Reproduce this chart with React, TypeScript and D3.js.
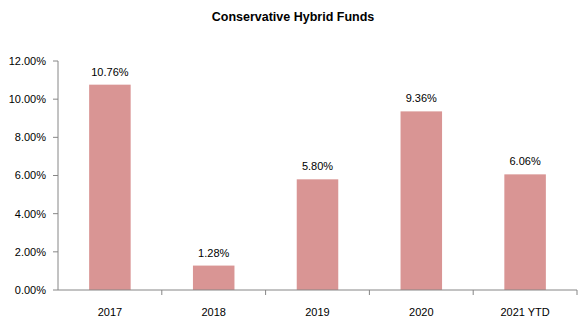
import React from "react";
import * as d3 from "d3";

const categories = ["2017", "2018", "2019", "2020", "2021 YTD"];
const values = [10.76, 1.28, 5.8, 9.36, 6.06];
const yTicks = [0, 2, 4, 6, 8, 10, 12];

const W = 584, H = 326;
const M = { left: 58, right: 7, top: 61, bottom: 36 };
const FONT = "'Liberation Sans', Arial, sans-serif";

export default function App() {
  const x = d3.scaleBand<string>().domain(categories).range([M.left, W - M.right]).paddingInner(0.6).paddingOuter(0.3);
  const y = d3.scaleLinear().domain([0, 12]).range([H - M.bottom, M.top]);
  const step = x.step();
  const bounds = d3.scaleBand<string>().domain(categories).range([M.left, W - M.right]);
  const y0 = y(0);
  return (
    <svg width={W} height={H} style={{ position: "absolute", left: 0, top: 0, background: "#fff" }} fontFamily={FONT}>
      <text x={293} y={20.5} textAnchor="middle" fontSize={12.5} fontWeight="bold" fill="#000">Conservative Hybrid Funds</text>
      {/* y axis */}
      <line x1={M.left} x2={M.left} y1={y(12)} y2={y0} stroke="#868686" />
      {yTicks.map((t) => (
        <g key={t}>
          <line x1={M.left - 5} x2={M.left} y1={y(t)} y2={y(t)} stroke="#868686" />
          <text x={M.left - 12} y={y(t)} dy="0.35em" textAnchor="end" fontSize={11} fill="#000">{t.toFixed(2)}%</text>
        </g>
      ))}
      {/* bars */}
      {categories.map((c, i) => (
        <g key={c}>
          <rect x={x(c)} y={y(values[i])} width={x.bandwidth()} height={y0 - y(values[i])} fill="#D99594" />
          <text x={(x(c) as number) + x.bandwidth() / 2} y={y(values[i]) - 9} textAnchor="middle" fontSize={11} fill="#000">{values[i].toFixed(2)}%</text>
          <text x={(bounds(c) as number) + step / 2} y={y0 + 26} textAnchor="middle" fontSize={11} fill="#000">{c}</text>
        </g>
      ))}
      {/* x axis */}
      <line x1={M.left} x2={W - M.right} y1={y0} y2={y0} stroke="#868686" />
      {categories.map((c) => (
        <line key={c} x1={(bounds(c) as number) + bounds.step()} x2={(bounds(c) as number) + bounds.step()} y1={y0} y2={y0 + 5} stroke="#868686" />
      ))}
    </svg>
  );
}
